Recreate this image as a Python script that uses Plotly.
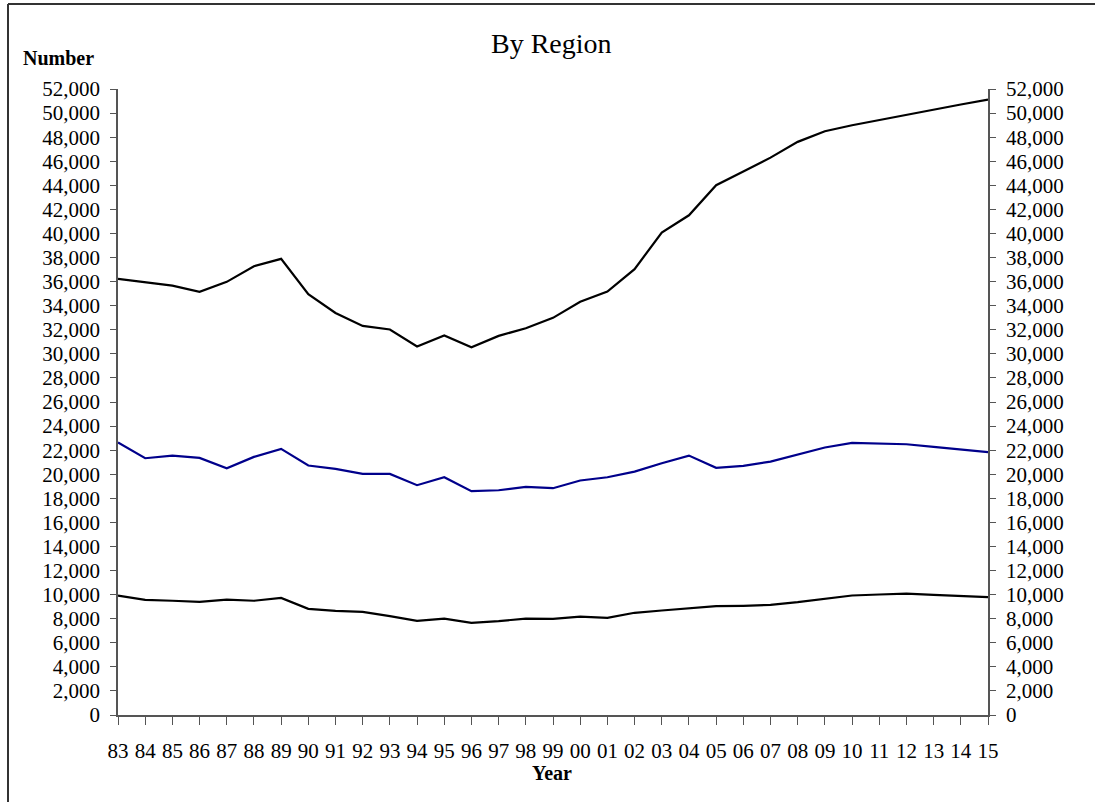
import plotly.graph_objects as go

years = ["83", "84", "85", "86", "87", "88", "89", "90", "91", "92", "93", "94", "95", "96", "97", "98",
         "99", "00", "01", "02", "03", "04", "05", "06", "07", "08", "09", "10", "11", "12", "13", "14", "15"]

region_top = [36230, 35920, 35670, 35150, 35980, 37280, 37890, 34950, 33400, 32320, 32020, 30610, 31520,
              30550, 31490, 32130, 32990, 34320, 35170, 37030, 40080, 41510, 44010, 45140, 46300, 47610,
              48490, 48990, 49430, 49850, 50290, 50710, 51120]
region_mid = [22630, 21330, 21550, 21360, 20500, 21440, 22110, 20720, 20450, 20030, 20030, 19090, 19750,
              18590, 18670, 18950, 18840, 19480, 19750, 20220, 20910, 21550, 20530, 20700, 21050, 21660,
              22220, 22610, 22550, 22490, 22280, 22030, 21830]
region_low = [9925, 9570, 9490, 9400, 9590, 9490, 9730, 8820, 8650, 8570, 8210, 7820, 8010,
              7660, 7800, 8000, 7990, 8180, 8070, 8490, 8680, 8850, 9040, 9070, 9150, 9370,
              9650, 9925, 10010, 10090, 9980, 9870, 9790]

y_ticks = list(range(0, 52001, 2000))
y_ticktext = [f"{v:,}" for v in y_ticks]

FONT = "Liberation Serif"
xs = list(range(len(years)))

fig = go.Figure()
fig.add_trace(go.Scatter(x=xs, y=region_top, mode="lines", line=dict(color="#000000", width=2.2), showlegend=False))
fig.add_trace(go.Scatter(x=xs, y=region_mid, mode="lines", line=dict(color="#00008B", width=2.2), showlegend=False))
fig.add_trace(go.Scatter(x=xs, y=region_low, mode="lines", line=dict(color="#000000", width=2.2), showlegend=False))
# invisible trace to drive right axis
fig.add_trace(go.Scatter(x=[0], y=[0], yaxis="y2", mode="markers", marker=dict(opacity=0), showlegend=False, hoverinfo="skip"))

W, H = 1095, 802
L, R, T, B = 118, 107, 89, 87
pw = W - L - R
ph = H - T - B

fig.update_layout(
    width=W, height=H,
    margin=dict(l=L, r=R, t=T, b=B),
    paper_bgcolor="white", plot_bgcolor="white",
    font=dict(family=FONT, color="#000000", size=21),
    xaxis=dict(
        range=[0, len(years) - 1], tickmode="array", tickvals=xs, ticktext=years,
        showgrid=False, zeroline=False, showline=True, linecolor="#555555", linewidth=1.5,
        ticks="outside", ticklen=8, tickcolor="#555555", tickwidth=1.2,
        tickfont=dict(family=FONT, size=21), ticklabelstandoff=8,
    ),
    yaxis=dict(
        range=[0, 52000], tickmode="array", tickvals=y_ticks, ticktext=y_ticktext,
        showgrid=False, zeroline=False, showline=True, linecolor="#555555", linewidth=1.5,
        ticks="outside", ticklen=6, tickcolor="#555555", tickwidth=1.2,
        tickfont=dict(family=FONT, size=21), ticklabelstandoff=6,
    ),
    yaxis2=dict(
        range=[0, 52000], tickmode="array", tickvals=y_ticks, ticktext=y_ticktext,
        overlaying="y", side="right", anchor="x",
        showgrid=False, zeroline=False, showline=True, linecolor="#555555", linewidth=1.5,
        ticks="outside", ticklen=6, tickcolor="#555555", tickwidth=1.2,
        tickfont=dict(family=FONT, size=21), ticklabelstandoff=6,
    ),
    annotations=[
        dict(text="By Region", xref="paper", yref="paper",
             x=(551 - L) / pw, y=(H - B - 43) / ph, xanchor="center", yanchor="middle",
             showarrow=False, font=dict(family=FONT, size=28)),
        dict(text="<b>Number</b>", xref="paper", yref="paper",
             x=(21 - L) / pw, y=(H - B - 58) / ph, xanchor="left", yanchor="middle",
             showarrow=False, font=dict(family=FONT, size=20)),
        dict(text="<b>Year</b>", xref="paper", yref="paper",
             x=(552 - L) / pw, y=(H - B - 773) / ph, xanchor="center", yanchor="middle",
             showarrow=False, font=dict(family=FONT, size=20)),
    ],
    shapes=[
        dict(type="line", xref="paper", yref="paper",
             x0=(8 - L) / pw, x1=(W + 5 - L) / pw, y0=(H - B - 4) / ph, y1=(H - B - 4) / ph,
             line=dict(color="#333333", width=2)),
        dict(type="line", xref="paper", yref="paper",
             x0=(8 - L) / pw, x1=(8 - L) / pw, y0=(H - B - 4) / ph, y1=(H - B - H - 5) / ph,
             line=dict(color="#333333", width=2)),
    ],
)

fig.write_html("out.html", config={"displayModeBar": False},
               post_script="document.body.style.margin='0';document.body.style.overflow='hidden';")
